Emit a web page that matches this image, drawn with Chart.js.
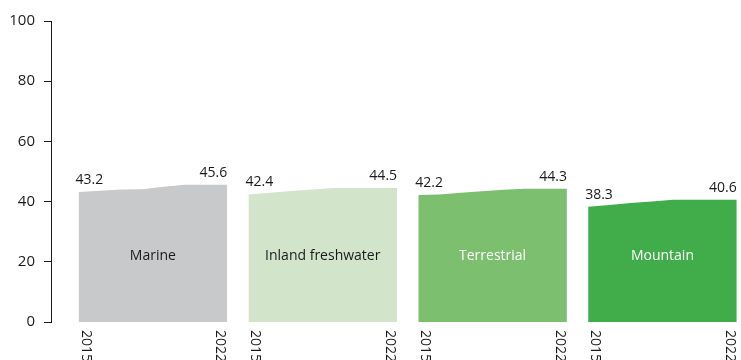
<!DOCTYPE html>
<html lang="en">
<head>
    <meta charset="UTF-8">
    <title>Protected area coverage by realm</title>
    <script src="https://cdn.jsdelivr.net/npm/chart.js"></script>
    <style>
        body { margin: 0; background: #fff; }
        #wrap { width: 741px; height: 360px; }
    </style>
</head>
<body>
<div id="wrap"><canvas id="realmChart" width="741" height="360"></canvas></div>

<script>
    const years = [2015, 2016, 2017, 2018, 2019, 2020, 2021, 2022];
    const categories = ["Marine", "Inland freshwater", "Terrestrial", "Mountain"];

    const marine = [43.2, 43.6, 44.0, 44.1, 44.9, 45.6, 45.6, 45.6];
    const inlandFreshwater = [42.4, 42.9, 43.5, 44.0, 44.5, 44.5, 44.5, 44.5];
    const terrestrial = [42.2, 42.4, 42.9, 43.4, 43.9, 44.3, 44.3, 44.3];
    const mountain = [38.3, 38.9, 39.5, 40.0, 40.6, 40.6, 40.6, 40.6];

    const yTicks = [0, 20, 40, 60, 80, 100];

    const seriesValues = [marine, inlandFreshwater, terrestrial, mountain];
    const fills = ["#c8c9cb", "#d2e5cb", "#7bbf6f", "#40ad4a"];
    const nameColors = ["#1a1a1a", "#1a1a1a", "#ffffff", "#ffffff"];

    const FONT = "'Open Sans', 'Noto Sans', sans-serif";
    const PANEL_STEP = 8; // 7 years wide + 1 year gap between panels

    // each realm sits in its own block along one shared linear x axis
    const datasets = categories.map((name, i) => ({
        label: name,
        data: seriesValues[i].map((v, j) => ({ x: i * PANEL_STEP + (years[j] - years[0]), y: v })),
        backgroundColor: fills[i],
        borderWidth: 0,
        pointRadius: 0,
        tension: 0,
        fill: "origin"
    }));

    const panelLabels = {
        id: "panelLabels",
        afterDatasetsDraw(chart) {
            const { ctx, scales: { x, y } } = chart;
            ctx.save();
            chart.data.datasets.forEach((ds, i) => {
                const first = ds.data[0];
                const last = ds.data[ds.data.length - 1];
                const x0 = x.getPixelForValue(first.x);
                const x1 = x.getPixelForValue(last.x);

                // start / end values
                ctx.font = "14px " + FONT;
                ctx.fillStyle = "#1a1a1a";
                ctx.textBaseline = "alphabetic";
                ctx.textAlign = "left";
                ctx.fillText(first.y.toFixed(1), x0 - 3, y.getPixelForValue(first.y) - 8);
                ctx.textAlign = "right";
                ctx.fillText(last.y.toFixed(1), x1, y.getPixelForValue(last.y) - 8);

                // realm name
                ctx.font = "14px " + FONT;
                ctx.fillStyle = nameColors[i];
                ctx.textAlign = "center";
                ctx.textBaseline = "middle";
                ctx.fillText(ds.label, (x0 + x1) / 2, y.getPixelForValue(22));

                // rotated year labels at both ends
                const top = y.getPixelForValue(0) + 8;
                ctx.font = "14px " + FONT;
                ctx.fillStyle = "#1a1a1a";
                ctx.textAlign = "left";
                [[x0, "bottom", years[0]], [x1, "top", years[years.length - 1]]].forEach(([px, base, yr]) => {
                    ctx.save();
                    ctx.translate(px, top);
                    ctx.rotate(Math.PI / 2);
                    ctx.textBaseline = base;
                    ctx.fillText(String(yr), 0, 0);
                    ctx.restore();
                });
            });
            ctx.restore();
        }
    };

    new Chart(document.getElementById("realmChart"), {
        type: "line",
        data: { datasets },
        options: {
            responsive: false,
            animation: false,
            layout: { padding: { top: 21, right: 0, bottom: 38, left: 0 } },
            plugins: { legend: { display: false }, tooltip: { enabled: false } },
            scales: {
                x: {
                    type: "linear",
                    display: false,
                    min: -1.3,
                    max: 31.2
                },
                y: {
                    min: 0,
                    max: 100,
                    afterFit: s => { s.width = 51; },
                    afterBuildTicks: s => { s.ticks = yTicks.map(v => ({ value: v })); },
                    ticks: {
                        color: "#1a1a1a",
                        padding: 9,
                        font: { family: FONT, size: 15 }
                    },
                    grid: {
                        drawOnChartArea: false,
                        drawTicks: true,
                        tickLength: 7,
                        color: "#1a1a1a"
                    },
                    border: { color: "#1a1a1a", width: 1 }
                }
            }
        },
        plugins: [panelLabels]
    });
</script>
</body>
</html>
